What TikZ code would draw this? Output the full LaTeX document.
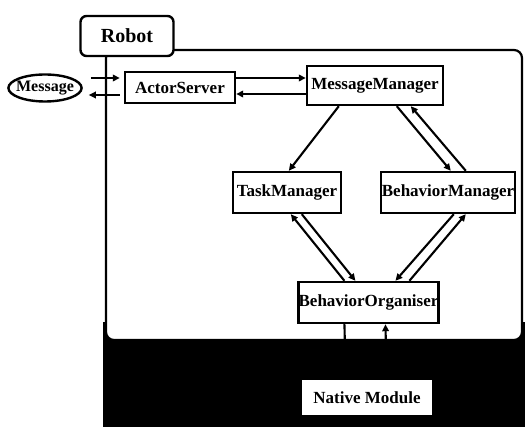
\documentclass[tikz,border=0pt]{standalone}
\usepackage{fontspec}
\setmainfont{Liberation Serif}
\usetikzlibrary{arrows.meta,shapes.geometric}
\begin{document}
\begin{tikzpicture}[x=1pt,y=-1pt,
  box/.style={draw,line width=2.4pt,fill=white,inner sep=0pt,font=\bfseries\fontsize{17}{19}\selectfont},
  arr/.style={line width=2.1pt,-{Triangle[length=7pt,width=6.5pt]}},
  ln/.style={line width=2.1pt}]
\useasboundingbox (0,0) rectangle (525,427);
% dark native area
\fill[black] (103,322) rectangle (525,427);
% robot frame
\draw[line width=2.2pt,fill=white,rounded corners=8pt] (106,50) rectangle (522,340);
\node[box,rounded corners=6pt,minimum width=93pt,minimum height=40pt,font=\bfseries\fontsize{20}{22}\selectfont] (robot) at (127,36) {Robot};
\node[box,ellipse,minimum width=69pt,minimum height=27pt,inner sep=0pt,font=\bfseries\fontsize{16}{18}\selectfont] (msg) at (45,88) {\kern-3pt Message\kern-3pt};
\node[box,minimum width=110pt,minimum height=31pt] (as) at (180,87.5) {ActorServer};
\node[box,minimum width=136pt,minimum height=39pt] (mm) at (375,85.5) {MessageManager};
\node[box,minimum width=108pt,minimum height=41pt] (tm) at (287,192.5) {TaskManager};
\node[box,minimum width=134pt,minimum height=41pt] (bm) at (448,192.5) {BehaviorManager};
\node[box,minimum width=137pt,minimum height=41pt] (bo) at (368.5,302.5) {BehaviorOrganiser};
\node[box,draw=none,minimum width=130pt,minimum height=35pt] (nm) at (367,397.5) {Native Module};
% message <-> actorserver
\draw[arr,shorten <=8pt,shorten >=4pt] ([yshift=10pt]msg.east) -- ([yshift=9.5pt]as.west);
\draw[arr,shorten <=4pt,shorten >=6pt] ([yshift=-7.5pt]as.west) -- ([yshift=-7pt]msg.east);
% actorserver <-> messagemanager
\draw[arr] ([yshift=9.5pt]as.east) -- ([yshift=7.5pt]mm.west);
\draw[arr] ([yshift=-8.5pt]mm.west) -- ([yshift=-6.5pt]as.east);
% mm - tm, bm
\draw[arr] ([xshift=33pt]mm.south west) -- ([xshift=57pt]tm.north west);
\draw[arr] ([xshift=91pt]mm.south west) -- ([xshift=71pt]bm.north west);
\draw[arr] ([xshift=86pt]bm.north west) -- ([xshift=105pt]mm.south west);
% tm, bm - bo
\draw[arr] ([xshift=47pt]bo.north west) -- ([xshift=59pt]tm.south west);
\draw[arr] ([xshift=70pt]tm.south west) -- ([xshift=58pt]bo.north west);
\draw[arr] ([xshift=74pt]bm.south west) -- ([xshift=98pt]bo.north west);
\draw[arr] ([xshift=112pt]bo.north west) -- ([xshift=86pt]bm.south west);
% bo - native
\draw[ln] ([xshift=47pt]bo.south west) -- ([xshift=45pt]nm.north west);
\draw[arr] ([xshift=86pt]nm.north west) -- ([xshift=88pt]bo.south west);
\end{tikzpicture}
\end{document}
